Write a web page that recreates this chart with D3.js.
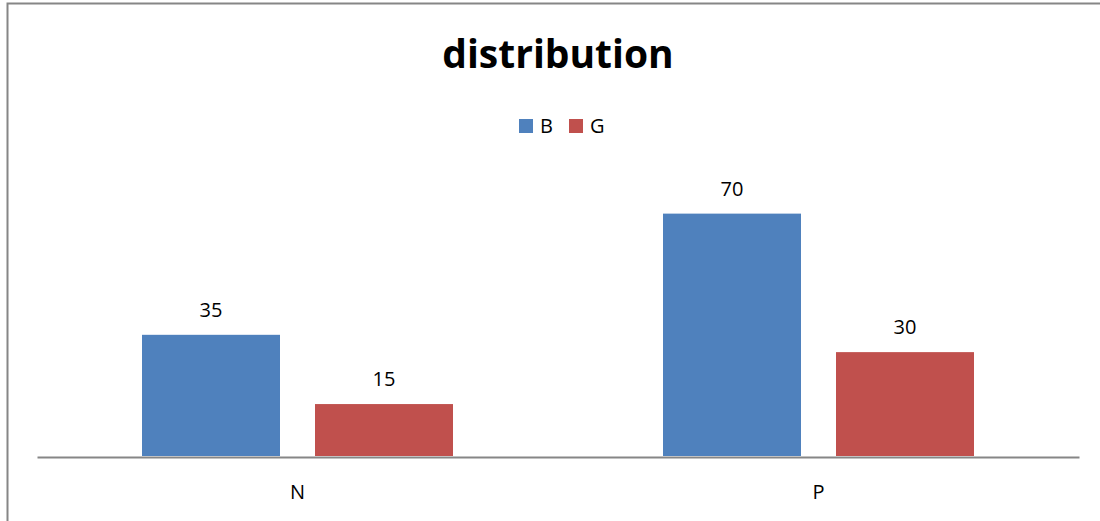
<!DOCTYPE html>
<html>
<head>
<meta charset="utf-8">
<script src="https://cdn.jsdelivr.net/npm/d3@7"></script>
<style>
    html, body { margin: 0; padding: 0; background: #fff; overflow: hidden; width: 1100px; height: 521px; }
    svg { display: block; }
    text { font-family: "Open Sans", "Noto Sans", sans-serif; fill: #000; }
</style>
</head>
<body>
<div id="chart"></div>
<script>
// data
const categories = ['N', 'P'];
const seriesNames = ['B', 'G'];
const valuesB = [35, 70];
const valuesG = [15, 30];
const seriesColors = ['#4F81BD', '#C0504D'];
const yMax = 80;

const w = 1100;
const h = 521;
const plotLeft = 37;
const plotRight = 1079;
const plotTop = 179;
const plotBottom = 456;

const svg = d3.select('#chart')
    .append('svg')
    .attr('width', w)
    .attr('height', h);

svg.append('rect')
    .attr('width', w)
    .attr('height', h)
    .attr('fill', '#fff');

// outer frame: only top and left edges fall inside the picture
svg.append('path')
    .attr('d', `M7.5,${h}V3.5H${w + 5}`)
    .attr('fill', 'none')
    .attr('stroke', '#868686')
    .attr('stroke-width', 2);

// scales
const x0 = d3.scaleBand()
    .domain(categories)
    .range([plotLeft, plotRight])
    .padding(0);

const x1 = d3.scaleBand()
    .domain(seriesNames)
    .range([0, x0.bandwidth()])
    .paddingInner(0.2023)
    .paddingOuter(0.607);

const y = d3.scaleLinear()
    .domain([0, yMax])
    .range([plotBottom, plotTop]);

// build rows from arrays
const rows = categories.map((c, i) => ({
    cat: c,
    vals: [
        { s: 'B', v: valuesB[i] },
        { s: 'G', v: valuesG[i] }
    ]
}));

const color = d3.scaleOrdinal().domain(seriesNames).range(seriesColors);

const groups = svg.selectAll('g.grp')
    .data(rows)
    .enter()
    .append('g')
    .attr('class', 'grp')
    .attr('transform', d => `translate(${x0(d.cat)}, 0)`);

groups.selectAll('rect')
    .data(d => d.vals)
    .enter()
    .append('rect')
    .attr('x', d => x1(d.s))
    .attr('y', d => y(d.v))
    .attr('width', x1.bandwidth())
    .attr('height', d => y(0) - y(d.v))
    .attr('fill', d => color(d.s));

groups.selectAll('text.lbl')
    .data(d => d.vals)
    .enter()
    .append('text')
    .attr('class', 'lbl')
    .attr('x', d => x1(d.s) + x1.bandwidth() / 2)
    .attr('y', d => y(d.v) - 18)
    .attr('text-anchor', 'middle')
    .style('font-size', '20px')
    .text(d => d.v);

// x axis: baseline only, no ticks
const xAxis = svg.append('g')
    .attr('transform', `translate(0, ${plotBottom + 1})`)
    .call(d3.axisBottom(x0).tickSize(0).tickSizeOuter(0).tickPadding(28));

xAxis.select('.domain')
    .attr('stroke', '#868686')
    .attr('stroke-width', 2);

xAxis.selectAll('text')
    .style('font-size', '20px')
    .style('font-family', '"Open Sans", sans-serif')
    .attr('fill', '#000');

// title
svg.append('text')
    .attr('x', 558)
    .attr('y', 68)
    .attr('text-anchor', 'middle')
    .style('font-size', '39px')
    .style('font-weight', 'bold')
    .text('distribution');

// legend
const legend = svg.append('g')
    .attr('transform', 'translate(519, 119)');

const items = legend.selectAll('g')
    .data(seriesNames)
    .enter()
    .append('g')
    .attr('transform', (d, i) => `translate(${i * 50}, 0)`);

items.append('rect')
    .attr('width', 14)
    .attr('height', 14)
    .attr('fill', d => color(d));

items.append('text')
    .attr('x', 21)
    .attr('y', 14)
    .style('font-size', '20px')
    .text(d => d);
</script>
</body>
</html>
